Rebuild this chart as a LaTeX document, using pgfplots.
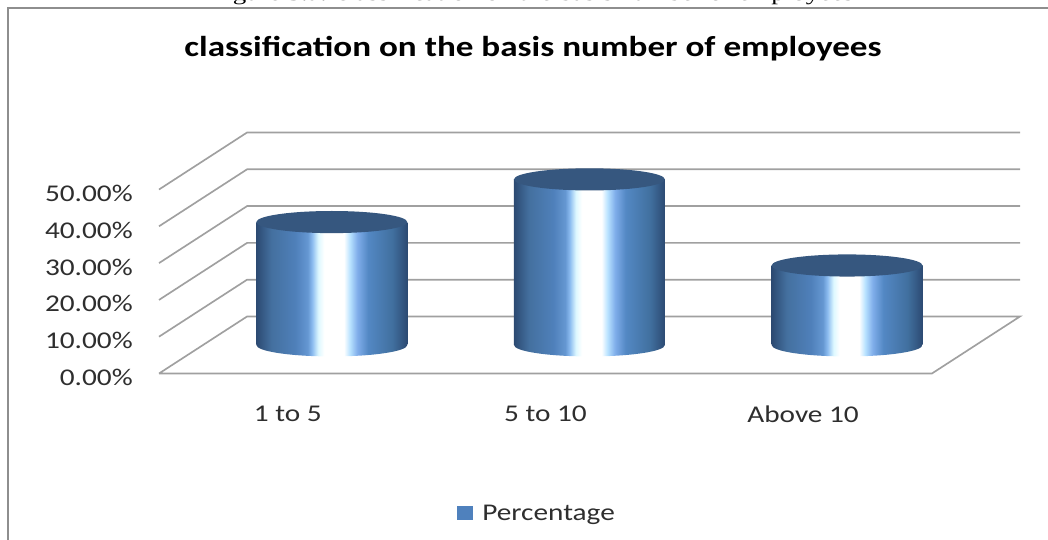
\documentclass[border=0pt]{standalone}
\usepackage{pgfplots}
\pgfplotsset{compat=1.18}
\usepackage{fontspec}
\setmainfont{Carlito}[FakeStretch=1.22]
\newfontfamily\capfont{Liberation Serif}[FakeStretch=1.35]

\definecolor{gridgrey}{HTML}{A0A0A0}
\definecolor{framegrey}{HTML}{8E8E8E}
\definecolor{captop}{HTML}{36577F}
\definecolor{legblue}{HTML}{4F81BD}
\definecolor{wallA}{HTML}{2C4A72}
\definecolor{wallB}{HTML}{44709F}
\definecolor{wallC}{HTML}{4F80BA}
\definecolor{wallD}{HTML}{6597D2}
\definecolor{wallE}{HTML}{8CBCF0}
\definecolor{wallF}{HTML}{DDF8FF}
\definecolor{wallG}{HTML}{B8E2FF}
\definecolor{wallH}{HTML}{7FADEA}
\definecolor{wallI}{HTML}{5388C4}
\definecolor{wallJ}{HTML}{41709F}

% Metallic band round the cylinder wall; 25bp to 75bp span the shape's width
\pgfdeclarehorizontalshading{cylwall}{100bp}{
  color(0bp)=(wallA);
  color(25bp)=(wallA);
  color(30bp)=(wallB);
  color(38bp)=(wallC);
  color(42bp)=(wallD);
  color(43.5bp)=(wallE);
  color(45.5bp)=(wallF);
  color(47.5bp)=(white);
  color(54bp)=(white);
  color(56bp)=(wallG);
  color(58.5bp)=(wallH);
  color(62bp)=(wallI);
  color(70bp)=(wallJ);
  color(75bp)=(wallA);
  color(100bp)=(wallA)}

% Lower rim and upper lid of a cylinder, centred on the data point
\pgfdeclareplotmark{cylbase}{%
  \path[draw=none,shade,shading=cylwall] (0pt,0pt) ellipse [x radius=56.6pt,y radius=8.6pt];}
\pgfdeclareplotmark{cyllid}{%
  \path[draw=none,fill=captop] (0pt,0pt) ellipse [x radius=56.6pt,y radius=8.3pt];}

% Cylinders stand halfway along the depth of the floor
\tikzset{depth shift/.style={xshift=33pt,yshift=21.4pt}}
\pgfplotsset{
  cylinder wall/.style={ybar,bar width=113.2pt,bar shift=0pt,draw=none,
    shade,shading=cylwall,depth shift,forget plot},
  cylinder end/.style={only marks,mark=#1,mark options={depth shift},forget plot},
  wall line/.style={gridgrey,line width=1.25pt,forget plot},
}

\begin{document}
\begin{tikzpicture}
\path[use as bounding box] (0,-404.25pt) rectangle (786pt,0);
\clip (0,-404.25pt) rectangle (786pt,0);

\begin{scope}[x=0.75pt,y=-0.75pt]
% Caption line above the chart, cut by the top edge
\node[anchor=base,inner sep=0pt,font=\capfont\fontsize{15}{17}\selectfont] at (532,0)
  {Figure 3.a: classification on the basis number of employees};
% Chart frame
\draw[framegrey,line width=1.1pt] (8,545) -- (8,8) -- (1055,8);
\end{scope}

\begin{axis}[
  at={(119.25pt,-280.125pt)},anchor=south west,
  scale only axis,
  width=645.75pt,height=181.05pt,
  xmin=-0.5,xmax=2.842,ymin=0,ymax=65.6,
  clip=false,
  axis line style={draw=none},
  major tick length=0pt,
  xtick={0,1,2},
  xticklabels={1 to 5,5 to 10,Above 10},
  ytick={0,10,20,30,40,50},
  yticklabels={0.00\%,10.00\%,20.00\%,30.00\%,40.00\%,50.00\%},
  tick label style={font=\fontsize{18}{20}\selectfont,text=black!82},
  xticklabel style={yshift=-20.7pt},
  yticklabel style={xshift=-16.2pt,yshift=-2.9pt},
]
% Walls and floor, gridlines running along the side wall and the back wall
\addplot[wall line] coordinates {(-0.5,0) (-0.158,15.5) (2.842,15.5) (2.5,0) (-0.5,0)};
\addplot[wall line] coordinates {(-0.5,10) (-0.158,25.5) (2.842,25.5)};
\addplot[wall line] coordinates {(-0.5,20) (-0.158,35.5) (2.842,35.5)};
\addplot[wall line] coordinates {(-0.5,30) (-0.158,45.5) (2.842,45.5)};
\addplot[wall line] coordinates {(-0.5,40) (-0.158,55.5) (2.842,55.5)};
\addplot[wall line] coordinates {(-0.5,50) (-0.158,65.5) (2.842,65.5)};

% Percentage by number of employees
\addplot[cylinder end=cylbase] coordinates {(0,0) (1,0) (2,0)};
\addplot[cylinder wall] coordinates {(0,33.4)};
\addplot[cylinder wall] coordinates {(1,45)};
\addplot[cylinder wall] coordinates {(2,21.6)};
\addplot[cylinder end=cyllid] coordinates {(0,33.4) (1,45) (2,21.6)};
\end{axis}

\begin{scope}[x=0.75pt,y=-0.75pt]
% Legend
\fill[legblue] (457,506) rectangle (472.5,519.5);
\node[anchor=base west,inner sep=0pt,font=\fontsize{18}{20}\selectfont,text=black!82] at (482,520) {Percentage};
% Chart title
\node[anchor=base,inner sep=0pt,font=\bfseries\fontsize{21.6}{24}\selectfont] at (533,56)
  {classification on the basis number of employees};
\end{scope}
\end{tikzpicture}
\end{document}
